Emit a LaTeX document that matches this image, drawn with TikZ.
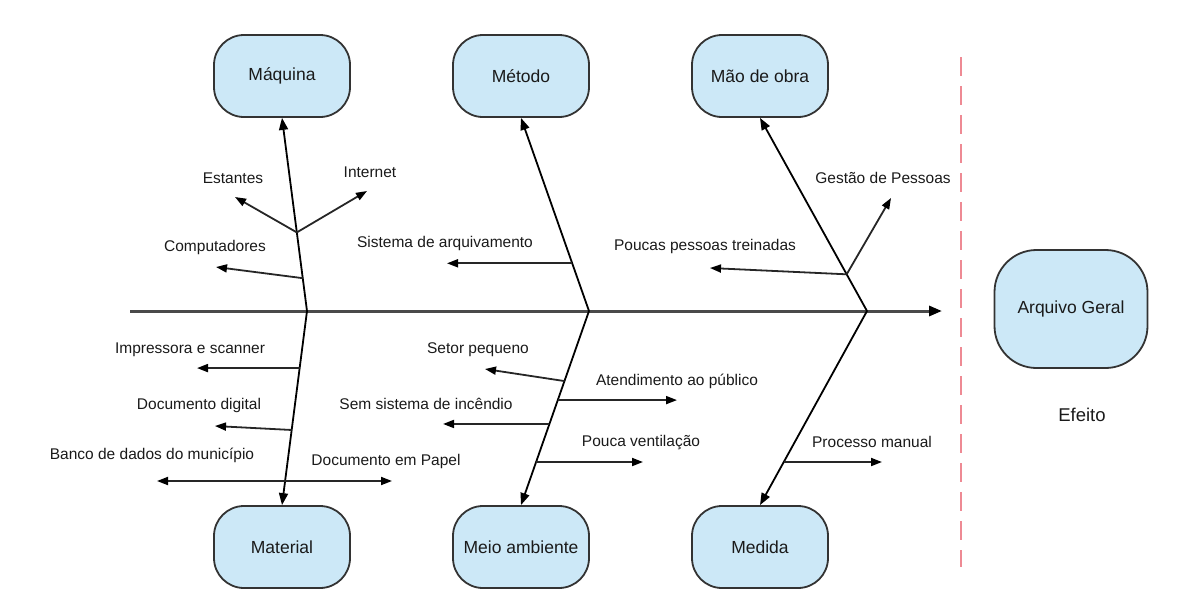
\documentclass[tikz,border=0pt]{standalone}
\usepackage{fontspec}
\setmainfont{Liberation Sans}
\usetikzlibrary{arrows.meta,calc}
\definecolor{boxfill}{HTML}{CCE8F7}
\definecolor{boxline}{HTML}{333333}
\definecolor{txt}{HTML}{1A1A1A}
\definecolor{dashred}{HTML}{EE8A94}
\definecolor{spinec}{HTML}{4A4A4A}
\begin{document}
\begin{tikzpicture}[x=1pt,y=-1pt,
 cat/.style={draw=boxline, fill=boxfill, line width=1.8pt, rounded corners=30pt, minimum width=136pt, minimum height=82pt, font=\fontsize{17.5}{20}\selectfont, text=txt},
 lbl/.style={font=\fontsize{15.5}{18}\selectfont, text=txt, inner sep=0pt},
 bone/.style={draw=black, line width=1.8pt, -{Triangle[length=12pt,width=9pt]}},
 sub/.style={draw=black!85, line width=1.8pt, -{Triangle[length=11pt,width=8pt,color=black]}},
 dsub/.style={draw=black!85, line width=1.8pt, {Triangle[length=11pt,width=8pt,color=black]}-{Triangle[length=11pt,width=8pt,color=black]}},
]
\useasboundingbox (0,0) rectangle (1178,611);
% category boxes
\node[cat] (maq) at (282,76) {Máquina};
\node[cat] (met) at (521,76) {Método};
\node[cat] (mao) at (760,76) {Mão de obra};
\node[cat] (mat) at (282,547) {Material};
\node[cat] (mei) at (521,547) {Meio ambiente};
\node[cat] (med) at (760,547) {Medida};
\node[cat, minimum width=153pt, minimum height=118pt, rounded corners=42pt] (arq) at (1071,309) {Arquivo Geral};
\node[font=\fontsize{18.5}{20}\selectfont, text=txt] (efe) at (1082,415) {Efeito};
% spine
\coordinate (s0) at (130,311);
\coordinate (s1) at (942,311);
\draw[line width=3pt, draw=spinec, -{Triangle[length=13pt,width=10pt,color=black]}] (s0) -- (s1);
% dashed separator
\coordinate (d0) at (961,57);
\coordinate (d1) at (961,567);
\draw[dashred, line width=2.2pt, dash pattern=on 19pt off 10pt] (d0) -- (d1);
% junctions
\coordinate (j1) at (307,311);
\coordinate (j2) at (589,311);
\coordinate (j3) at (867,311);
% main bones
\draw[bone] (j1) -- (maq.south);
\draw[bone] (j1) -- (mat.north);
\draw[bone] (j2) -- (met.south);
\draw[bone] (j2) -- (mei.north);
\draw[bone] (j3) -- (mao.south);
\draw[bone] (j3) -- (med.north);
% Maquina
\coordinate (b1) at ($(j1)!0.407!(maq.south)$);
\coordinate (e1) at (235,197);
\coordinate (e2) at (367,191);
\draw[sub] (b1) -- (e1);
\draw[sub] (b1) -- (e2);
\node[lbl] (l1) at (233,178) {Estantes};
\node[lbl] (l2) at (370,172) {Internet};
\coordinate (b2) at ($(j1)!0.17!(maq.south)$);
\coordinate (e3) at (216,267);
\draw[sub] (b2) -- (e3);
\node[lbl] (l3) at (215,247) {Computadores};
% Metodo
\coordinate (b4) at ($(j2)!0.247!(met.south)$);
\coordinate (e4) at (447,263);
\draw[sub] (b4) -- (b4 -| e4);
\node[lbl] (l4) at (445,243) {Sistema de arquivamento};
% Mao de obra
\coordinate (b5) at ($(j3)!0.19!(mao.south)$);
\coordinate (e5) at (710,268);
\coordinate (e6) at (891,198);
\draw[sub] (b5) -- (e5);
\draw[sub] (b5) -- (e6);
\node[lbl] (l5) at (705,246) {Poucas pessoas treinadas};
\node[lbl] (l6) at (883,178) {Gestão de Pessoas};
% Material
\coordinate (b7) at ($(j1)!0.294!(mat.north)$);
\coordinate (e7) at (197,368);
\draw[sub] (b7) -- (b7 -| e7);
\node[lbl] (l7) at (190,350) {Impressora e scanner};
\coordinate (b8) at ($(j1)!0.613!(mat.north)$);
\coordinate (e8) at (215,426);
\draw[sub] (b8) -- (e8);
\node[lbl] (l8) at (199,405) {Documento digital};
\coordinate (e9a) at (157,481);
\coordinate (e9b) at (392,481);
\draw[dsub] (e9a) -- (e9b);
\node[lbl] (l9) at (152,455) {Banco de dados do município};
\node[lbl] (l9b) at (386,461) {Documento em Papel};
% Meio ambiente
\coordinate (b10) at ($(j2)!0.361!(mei.north)$);
\coordinate (e10) at (485,369);
\draw[sub] (b10) -- (e10);
\node[lbl] (l10) at (478,350) {Setor pequeno};
\coordinate (b11) at ($(j2)!0.459!(mei.north)$);
\coordinate (e11) at (677,400);
\draw[sub] (b11) -- (b11 -| e11);
\node[lbl] (l11) at (677,381) {Atendimento ao público};
\coordinate (b12) at ($(j2)!0.582!(mei.north)$);
\coordinate (e12) at (443,424);
\draw[sub] (b12) -- (b12 -| e12);
\node[lbl] (l12) at (426,404) {Sem sistema de incêndio};
\coordinate (b13) at ($(j2)!0.778!(mei.north)$);
\coordinate (e13) at (643,462);
\draw[sub] (b13) -- (b13 -| e13);
\node[lbl] (l13) at (641,443) {Pouca ventilação};
% Medida
\coordinate (b14) at ($(j3)!0.778!(med.north)$);
\coordinate (e14) at (882,462);
\draw[sub] (b14) -- (b14 -| e14);
\node[lbl] (l14) at (872,442) {Processo manual};
\end{tikzpicture}
\end{document}
